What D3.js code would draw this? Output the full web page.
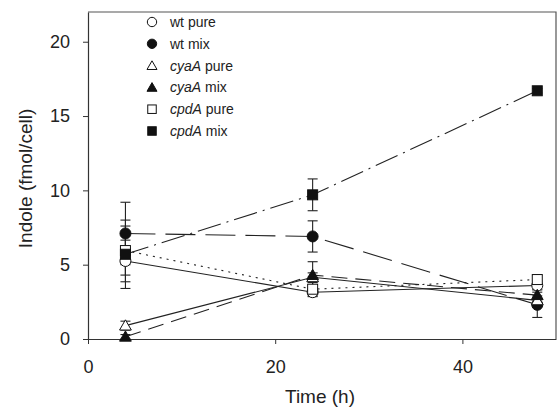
<!DOCTYPE html>
<html>
<head>
<meta charset="utf-8">
<script src="https://cdn.jsdelivr.net/npm/d3@7"></script>
<style>
  body { margin: 0; background: #fff; }
  text { font-family: "Liberation Sans", Arial, sans-serif; }
</style>
</head>
<body>
<div id="chart"></div>
<script>
var width = 558,
    height = 408;

// sampling times (h)
var times = [4, 24, 48];

// series names, values and error bars
var names = ["wt pure", "wt mix", "cyaA pure", "cyaA mix", "cpdA pure", "cpdA mix"];
var wtPure = [5.25, 3.15, 3.6],     wtPureErr = [1.4, 0.3, 0.3];
var wtMix = [7.1, 6.9, 2.3],        wtMixErr = [2.1, 1.05, 0.85];
var cyaPure = [0.9, 4.15, 2.6],     cyaPureErr = [0.3, 0.3, 0.3];
var cyaMix = [0.15, 4.3, 2.95],     cyaMixErr = [0.15, 0.9, 0.4];
var cpdPure = [5.95, 3.35, 4.0],    cpdPureErr = [1.65, 0.45, 0.3];
var cpdMix = [5.7, 9.7, 16.7],      cpdMixErr = [2.3, 1.07, 0.15];

var xTicks = [0, 20, 40];
var yTicks = [0, 5, 10, 15, 20];

var series = [
  {name: names[0], vals: wtPure,  err: wtPureErr,  shape: "circle",   fill: false, dash: null},
  {name: names[1], vals: wtMix,   err: wtMixErr,   shape: "circle",   fill: true,  dash: "30,10"},
  {name: names[2], vals: cyaPure, err: cyaPureErr, shape: "triangle", fill: false, dash: null},
  {name: names[3], vals: cyaMix,  err: cyaMixErr,  shape: "triangle", fill: true,  dash: "16,8"},
  {name: names[4], vals: cpdPure, err: cpdPureErr, shape: "square",   fill: false, dash: "2,5"},
  {name: names[5], vals: cpdMix,  err: cpdMixErr,  shape: "square",   fill: true,  dash: "24,6,2,6"}
];

var margin = {left: 88, top: 12, right: 2, bottom: 69};

var x = d3.scaleLinear().domain([0, 50]).range([margin.left, width - margin.right]);
var y = d3.scaleLinear().domain([0, 22]).range([height - margin.bottom, margin.top]);

var svg = d3.select("#chart").append("svg")
    .attr("width", width)
    .attr("height", height);

// frame
svg.append("path")
    .attr("d", "M" + x(0) + "," + y(22) + "H" + x(50) + "V" + y(0))
    .attr("fill", "none")
    .attr("stroke", "#555")
    .attr("stroke-width", 1.2);

var xAxis = svg.append("g")
    .attr("transform", "translate(0," + y(0) + ")")
    .call(d3.axisBottom(x).tickValues(xTicks).tickSize(5).tickPadding(16).tickSizeOuter(0));
var yAxis = svg.append("g")
    .attr("transform", "translate(" + x(0) + ",0)")
    .call(d3.axisLeft(y).tickValues(yTicks).tickSize(5).tickPadding(13).tickSizeOuter(0));

[xAxis, yAxis].forEach(function(a) {
  a.select(".domain").attr("stroke", "#333").attr("stroke-width", 1.2);
  a.selectAll(".tick line").attr("stroke", "#333");
  a.selectAll(".tick text").attr("font-size", 18).attr("fill", "#222")
    .style("font-family", "Liberation Sans, Arial, sans-serif");
});

svg.append("text")
    .attr("x", 320).attr("y", 403)
    .attr("text-anchor", "middle")
    .attr("font-size", 19).attr("fill", "#222")
    .text("Time (h)");

svg.append("text")
    .attr("transform", "translate(32," + y(10.8) + ") rotate(-90)")
    .attr("text-anchor", "middle")
    .attr("font-size", 19).attr("fill", "#222")
    .text("Indole (fmol/cell)");

function drawMarker(g, s, cx, cy, k) {
  k = k || 1;
  var fill = s.fill ? "#111" : "#fff";
  if (s.shape === "circle") {
    g.append("circle").attr("cx", cx).attr("cy", cy).attr("r", 5.5 * k)
      .attr("fill", fill).attr("stroke", "#111").attr("stroke-width", 1);
  } else if (s.shape === "square") {
    g.append("rect").attr("x", cx - 5 * k).attr("y", cy - 5 * k).attr("width", 10 * k).attr("height", 10 * k)
      .attr("fill", fill).attr("stroke", "#111").attr("stroke-width", 1);
  } else {
    var sym = d3.symbol().type(d3.symbolTriangle).size(60 * k * k);
    g.append("path").attr("d", sym()).attr("transform", "translate(" + cx + "," + (cy + 1) + ")")
      .attr("fill", fill).attr("stroke", "#111").attr("stroke-width", 1);
  }
}

var line = d3.line()
    .x(function(d, i) { return x(times[i]); })
    .y(function(d) { return y(d); });

var plot = svg.append("g");

// lines
series.forEach(function(s) {
  plot.append("path")
    .attr("d", line(s.vals))
    .attr("fill", "none")
    .attr("stroke", "#222")
    .attr("stroke-width", 1.1)
    .attr("stroke-dasharray", s.dash);
});

// error bars
series.forEach(function(s) {
  s.vals.forEach(function(v, i) {
    var cx = x(times[i]), top = y(v + s.err[i]), bot = y(Math.max(0, v - s.err[i]));
    plot.append("line").attr("x1", cx).attr("x2", cx).attr("y1", top).attr("y2", bot)
      .attr("stroke", "#222").attr("stroke-width", 1.1);
    [top, bot].forEach(function(yy) {
      plot.append("line").attr("x1", cx - 5).attr("x2", cx + 5).attr("y1", yy).attr("y2", yy)
        .attr("stroke", "#222").attr("stroke-width", 1.1);
    });
  });
});

// markers
series.forEach(function(s) {
  s.vals.forEach(function(v, i) {
    drawMarker(plot, s, x(times[i]), y(v));
  });
});

// legend
var legend = svg.append("g");
series.forEach(function(s, i) {
  var ly = 22 + i * 21.8;
  drawMarker(legend, s, 152, ly, 0.85);
  var parts = s.name.split(" ");
  var t = legend.append("text").attr("x", 170).attr("y", ly + 5)
    .attr("font-size", 14).attr("fill", "#222");
  t.append("tspan").attr("font-style", parts[0] === "wt" ? "normal" : "italic").text(parts[0]);
  t.append("tspan").text(" " + parts[1]);
});
</script>
</body>
</html>
